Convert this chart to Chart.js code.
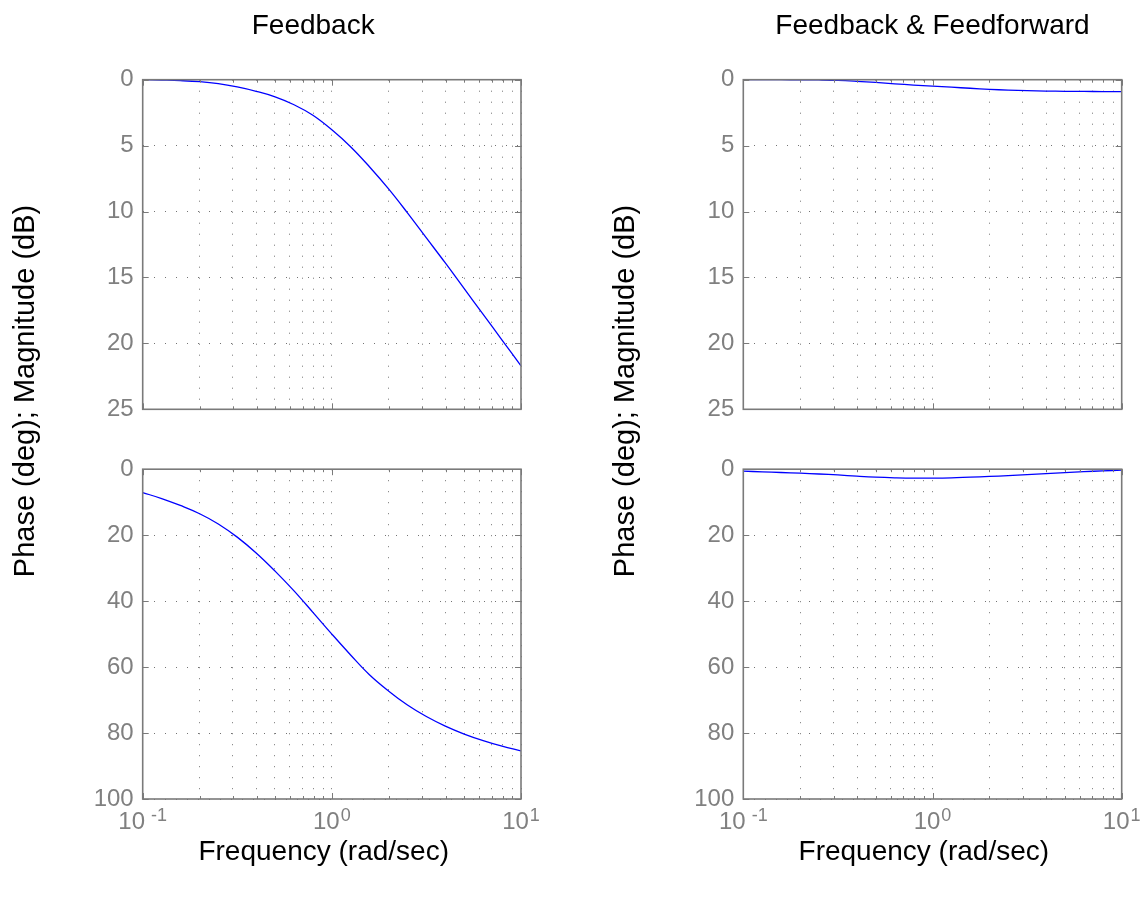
<!DOCTYPE html>
<html>
<head>
<meta charset="utf-8">
<title>Bode plots: Feedback vs Feedback & Feedforward</title>
<script src="https://cdn.jsdelivr.net/npm/chart.js@4.4.1/dist/chart.umd.min.js"></script>
<style>
  html, body { margin: 0; padding: 0; background: #ffffff; }
  #stage { position: relative; width: 1145px; height: 897px; overflow: hidden; }
  #stage canvas { position: absolute; left: 0; top: 0; }
</style>
</head>
<body>
<div id="stage">
  <canvas id="fbMag" width="1145" height="897"></canvas>
  <canvas id="fbPhase" width="1145" height="897"></canvas>
  <canvas id="ffMag" width="1145" height="897"></canvas>
  <canvas id="ffPhase" width="1145" height="897"></canvas>
</div>
<script>
// Frequency samples (rad/sec), ten per decade
const FREQ = [0.1, 0.126, 0.158, 0.2, 0.251, 0.316, 0.398, 0.501, 0.631, 0.794,
              1, 1.26, 1.58, 2, 2.51, 3.16, 3.98, 5.01, 6.31, 7.94, 10];

// Feedback only: magnitude (dB, shown downward) and phase (deg, shown downward)
const FB_MAG   = [0, 0.03, 0.07, 0.15, 0.3, 0.55, 0.88, 1.3, 1.9, 2.7,
                  3.8, 5.1, 6.6, 8.3, 10.1, 12.0, 13.9, 15.85, 17.8, 19.75, 21.7];
const FB_PHASE = [7.1, 8.9, 11.0, 13.5, 16.6, 20.6, 25.4, 30.9, 36.9, 43.4,
                  50.0, 56.4, 62.3, 67.3, 71.5, 75.0, 77.9, 80.3, 82.3, 84.0, 85.4];

// Feedback & feedforward
const FF_MAG   = [0, 0, 0, 0.01, 0.02, 0.05, 0.12, 0.21, 0.31, 0.41,
                  0.49, 0.57, 0.65, 0.73, 0.79, 0.83, 0.86, 0.88, 0.89, 0.9, 0.9];
const FF_PHASE = [0.6, 0.8, 1.0, 1.2, 1.45, 1.75, 2.1, 2.4, 2.6, 2.72,
                  2.7, 2.6, 2.4, 2.2, 1.95, 1.65, 1.35, 1.05, 0.75, 0.5, 0.3];

// Axis ranges and ticks
const MAG_RANGE = [0, 25];
const MAG_STEP = 5;
const PHASE_RANGE = [0, 100];
const PHASE_STEP = 20;
const FREQ_GRID = [0.1, 0.2, 0.3, 0.4, 0.5, 0.6, 0.7, 0.8, 0.9, 1, 2, 3, 4, 5, 6, 7, 8, 9, 10];
const DECADES = [0.1, 1, 10];
const DECADE_BASE = ['10', '10', '10'];
const DECADE_EXP = ['-1', '0', '1'];

// Text
const TITLES = ['Feedback', 'Feedback & Feedforward'];
const X_LABEL = 'Frequency (rad/sec)';
const Y_LABEL = 'Phase (deg); Magnitude (dB)';

const W = 1145, H = 897;
const FONT = "'Liberation Sans', Arial, Helvetica, sans-serif";
const GREY = '#808080';
const Y_AXIS_W = 70;

// Box, inward tick marks and panel texts
const panelDecor = {
  id: 'panelDecor',
  afterDraw(chart, args, opts) {
    const ctx = chart.ctx;
    const a = chart.chartArea;
    const xs = chart.scales.x, ys = chart.scales.y;
    ctx.save();
    ctx.strokeStyle = '#7a7a7a';
    ctx.lineWidth = 1;
    ctx.beginPath();
    xs.ticks.forEach(t => {
      const px = Math.round(xs.getPixelForValue(t.value)) + 0.5;
      const len = DECADES.includes(t.value) ? 6 : 3;
      ctx.moveTo(px, a.top); ctx.lineTo(px, a.top + len);
      ctx.moveTo(px, a.bottom); ctx.lineTo(px, a.bottom - len);
    });
    ys.ticks.forEach(t => {
      const py = Math.round(ys.getPixelForValue(t.value)) + 0.5;
      ctx.moveTo(a.left, py); ctx.lineTo(a.left + 6, py);
      ctx.moveTo(a.right, py); ctx.lineTo(a.right - 6, py);
    });
    ctx.stroke();
    ctx.lineWidth = 1.6;
    ctx.strokeRect(a.left, a.top, a.right - a.left, a.bottom - a.top);

    ctx.fillStyle = '#000';
    if (opts.title) {
      ctx.font = '28px ' + FONT;
      ctx.textAlign = 'center';
      ctx.textBaseline = 'alphabetic';
      ctx.fillText(opts.title, a.left + opts.titleDx, a.top - 46);
    }
    if (opts.xLabel) {
      ctx.font = '28px ' + FONT;
      ctx.textAlign = 'center';
      ctx.textBaseline = 'alphabetic';
      ctx.fillText(opts.xLabel, a.left + opts.xLabelDx, a.bottom + 61);
      // decade labels: 10 with raised exponent
      ctx.fillStyle = GREY;
      DECADES.forEach((v, i) => {
        const px = xs.getPixelForValue(v);
        ctx.font = '24px ' + FONT;
        const wb = ctx.measureText(DECADE_BASE[i]).width;
        ctx.font = '18px ' + FONT;
        const gap = DECADE_EXP[i].startsWith('-') ? 6 : 1;
        const we = ctx.measureText(DECADE_EXP[i]).width;
        const start = px - (wb + gap + we) / 2;
        ctx.textAlign = 'left';
        ctx.font = '24px ' + FONT;
        ctx.fillText(DECADE_BASE[i], start, a.bottom + 30);
        ctx.font = '18px ' + FONT;
        ctx.fillText(DECADE_EXP[i], start + wb + gap, a.bottom + 22);
      });
    }
    if (opts.yLabel) {
      ctx.fillStyle = '#000';
      ctx.font = '29px ' + FONT;
      ctx.translate(a.left - 109, 391);
      ctx.rotate(-Math.PI / 2);
      ctx.textAlign = 'center';
      ctx.textBaseline = 'alphabetic';
      ctx.fillText(opts.yLabel, 0, 0);
    }
    ctx.restore();
  }
};

function makePanel(id, area, values, range, step, decor) {
  return new Chart(document.getElementById(id), {
    type: 'line',
    data: {
      datasets: [{
        data: FREQ.map((f, i) => ({ x: f, y: values[i] })),
        borderColor: '#0000ff',
        borderWidth: 1.3,
        pointRadius: 0,
        fill: false,
        tension: 0.4
      }]
    },
    options: {
      responsive: false,
      animation: false,
      events: [],
      layout: {
        padding: {
          left: area.left - Y_AXIS_W,
          right: W - area.right,
          top: area.top,
          bottom: H - area.bottom
        }
      },
      plugins: {
        legend: { display: false },
        tooltip: { enabled: false },
        panelDecor: decor
      },
      scales: {
        x: {
          type: 'logarithmic',
          min: 0.1,
          max: 10,
          afterBuildTicks: s => { s.ticks = FREQ_GRID.map(v => ({ value: v })); },
          afterFit: s => { s.height = 0; },
          ticks: { display: false, autoSkip: false },
          grid: { color: 'rgba(90,90,90,0.85)', lineWidth: 1, drawTicks: false },
          border: { display: false, dash: [1, 10] }
        },
        y: {
          type: 'linear',
          reverse: true,
          min: range[0],
          max: range[1],
          afterFit: s => { s.width = Y_AXIS_W; },
          ticks: {
            stepSize: step,
            color: GREY,
            padding: 9,
            font: { family: FONT, size: 24 }
          },
          grid: { color: 'rgba(90,90,90,0.85)', lineWidth: 1, drawTicks: false },
          border: { display: false, dash: [1, 10] }
        }
      }
    },
    plugins: [panelDecor]
  });
}

const LEFT = { left: 142.7, right: 521 };
const RIGHT = { left: 743.3, right: 1121.7 };
const TOP = { top: 79.7, bottom: 409.3 };
const BOTTOM = { top: 469.2, bottom: 799 };

makePanel('fbMag', { ...LEFT, ...TOP }, FB_MAG, MAG_RANGE, MAG_STEP,
  { title: TITLES[0], titleDx: 170.5 });
makePanel('fbPhase', { ...LEFT, ...BOTTOM }, FB_PHASE, PHASE_RANGE, PHASE_STEP,
  { xLabel: X_LABEL, xLabelDx: 181, yLabel: Y_LABEL });
makePanel('ffMag', { ...RIGHT, ...TOP }, FF_MAG, MAG_RANGE, MAG_STEP,
  { title: TITLES[1], titleDx: 189.2 });
makePanel('ffPhase', { ...RIGHT, ...BOTTOM }, FF_PHASE, PHASE_RANGE, PHASE_STEP,
  { xLabel: X_LABEL, xLabelDx: 180.5, yLabel: Y_LABEL });
</script>
</body>
</html>
